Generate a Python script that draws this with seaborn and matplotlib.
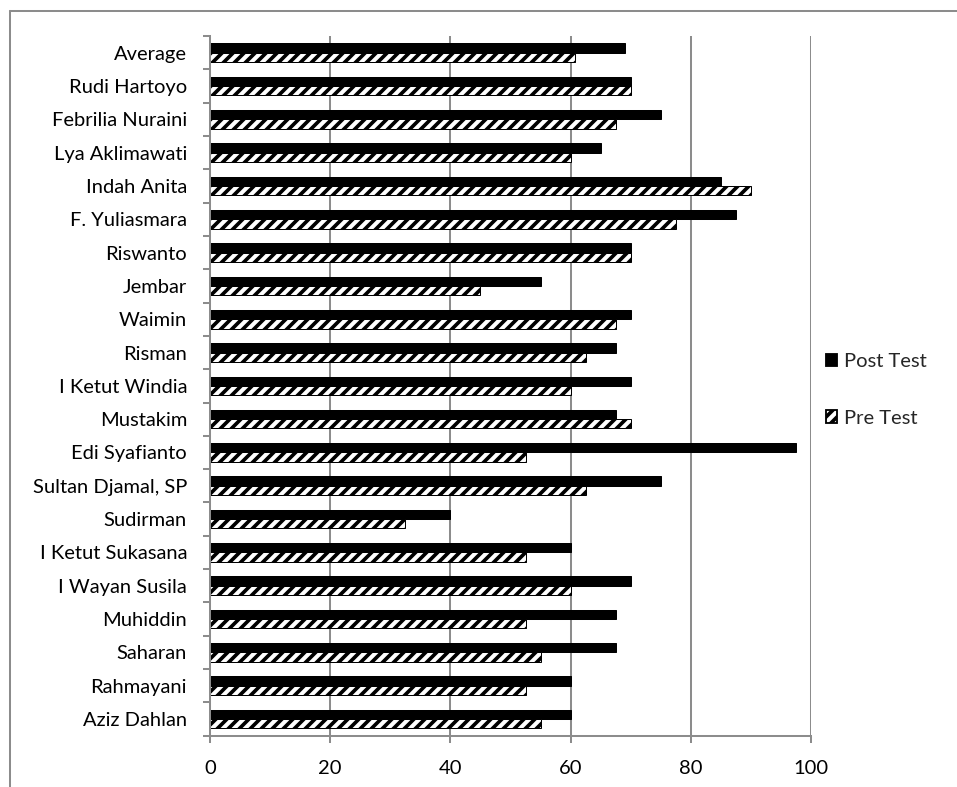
import matplotlib
matplotlib.use("Agg")
import matplotlib.pyplot as plt
import seaborn as sns
import pandas as pd
import numpy as np
from matplotlib.patches import Patch
from matplotlib.lines import Line2D
from matplotlib.ticker import FixedLocator

# Scores per participant, listed top to bottom
students = ["Average", "Rudi Hartoyo", "Febrilia Nuraini", "Lya Aklimawati",
            "Indah Anita", "F. Yuliasmara", "Riswanto", "Jembar", "Waimin",
            "Risman", "I Ketut Windia", "Mustakim", "Edi Syafianto",
            "Sultan Djamal, SP", "Sudirman", "I Ketut Sukasana",
            "I Wayan Susila", "Muhiddin", "Saharan", "Rahmayani", "Aziz Dahlan"]
post_test = [69, 70, 75, 65, 85, 87.5, 70, 55, 70, 67.5, 70, 67.5, 97.5,
             75, 40, 60, 70, 67.5, 67.5, 60, 60]
pre_test = [60.75, 70, 67.5, 60, 90, 77.5, 70, 45, 67.5, 62.5, 60, 70, 52.5,
            62.5, 32.5, 52.5, 60, 52.5, 55, 52.5, 55]
series = ["Post Test", "Pre Test"]
x_ticks = [0, 20, 40, 60, 80, 100]

sns.set_style("white")
plt.rcParams["font.family"] = ["Lato", "DejaVu Sans"]
plt.rcParams["hatch.linewidth"] = 2.0

GRAY = "#8c8c8c"
DPI = 132
W, H = 957, 787
FS = 11
HATCH = "////"

df = pd.DataFrame({
    "Student": students * 2,
    "Score": post_test + pre_test,
    "Test": [series[0]] * len(students) + [series[1]] * len(students),
})

fig = plt.figure(figsize=(W / DPI, H / DPI), dpi=DPI)
ax = fig.add_axes([210 / W, 1 - 735.7 / H, 601 / W, (735.7 - 36) / H])

sns.barplot(data=df, y="Student", x="Score", hue="Test", order=students,
            hue_order=series, orient="h", width=0.56, gap=0,
            palette=["black", "white"], edgecolor="black", linewidth=0.55,
            saturation=1, legend=False, ax=ax)

for bar in ax.containers[1]:
    bar.set_hatch(HATCH)

ax.set_xlim(0, 100)
ax.set_ylim(len(students) - 0.5, -0.5)
ax.set_xticks(x_ticks)
ax.set_xticklabels([str(v) for v in x_ticks])
ax.set_xlabel("")
ax.set_ylabel("")

ax.grid(axis="x", color=GRAY, lw=1.1)
ax.grid(axis="y", visible=False)
ax.set_axisbelow(True)

ax.yaxis.set_minor_locator(FixedLocator(np.arange(-0.5, len(students), 1)))
ax.tick_params(axis="y", which="major", length=0, pad=12.5, labelsize=FS,
               labelcolor="black")
ax.tick_params(axis="y", which="minor", length=3.8, width=1.1, color=GRAY,
               direction="out", left=True)
ax.tick_params(axis="x", length=3.8, width=1.1, color=GRAY, direction="out",
               pad=9.3, labelsize=FS, labelcolor="black", bottom=True)

for side in ("top", "right"):
    ax.spines[side].set_visible(False)
for side in ("left", "bottom"):
    ax.spines[side].set_color(GRAY)
    ax.spines[side].set_linewidth(1.1)

handles = [Patch(facecolor="black", edgecolor="black"),
           Patch(facecolor="white", edgecolor="black", hatch=HATCH)]
fig.legend(handles=handles, labels=series, loc="center left",
           bbox_to_anchor=(808 / W, 1 - 390 / H), frameon=False,
           handlelength=0.55, handleheight=0.55, labelspacing=1.95,
           handletextpad=0.35, fontsize=FS)

# Chart-area frame along the left and top
fig.add_artist(Line2D([10 / W, 10 / W], [0, 1 - 11 / H],
                      transform=fig.transFigure, color=GRAY, lw=1.1))
fig.add_artist(Line2D([10 / W, 1], [1 - 11 / H, 1 - 11 / H],
                      transform=fig.transFigure, color=GRAY, lw=1.1))

fig.savefig("out.png", dpi=DPI, facecolor="white")
